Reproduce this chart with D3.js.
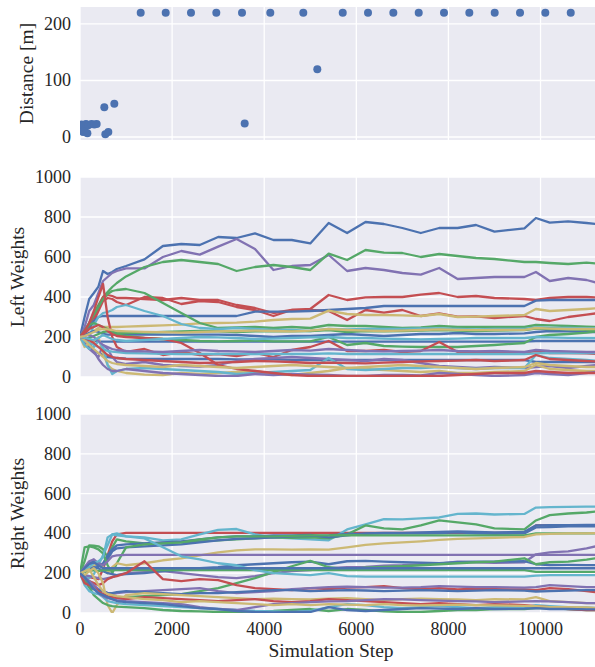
<!DOCTYPE html>
<html>
<head>
<meta charset="utf-8">
<script src="https://cdn.jsdelivr.net/npm/d3@7"></script>
<style>
  body { margin: 0; background: #fff; }
</style>
</head>
<body>
<div id="chart"></div>
<script>
// distance scatter
var distSteps = [30, 58, 70, 100, 130, 160, 181, 250, 311, 362, 528, 550, 615, 745,
  1318, 1861, 2410, 2960, 3518, 3576, 4132, 4849, 5153, 5705, 6254, 6804, 7355, 7904,
  8454, 9005, 9555, 10104, 10656];
var distVals = [22, 19.5, 9, 12, 23, 6.5, 21, 23, 22, 23, 52.5, 5, 9, 59,
  220, 220, 220, 220, 220, 24, 220, 220, 120, 220, 220, 220, 220, 220,
  220, 220, 220, 220, 220];

// sample steps shared by all weight traces
var steps = [0, 100, 200, 300, 400, 500, 600, 700, 800, 1000, 1400, 1800, 2200, 2600, 3000,
  3400, 3800, 4200, 4600, 5000, 5400, 5800, 6200, 6600, 7000, 7400, 7800, 8200, 8600,
  9000, 9650, 9900, 10200, 10600, 11000, 11200];

var xTicks = [0, 2000, 4000, 6000, 8000, 10000];
var distTicks = [0, 100, 200];
var weightTicks = [0, 200, 400, 600, 800, 1000];

// palette index of each trace (blue, green, red, purple, yellow, cyan)
var leftHue = [0, 3, 1, 2, 2, 0, 4, 1, 5, 0, 0, 0, 1, 2, 3, 4, 5, 3, 1, 2, 5, 4, 2, 3, 5, 4];
var leftWeights = [
  [200,300,390,420,452,530,515,525,540, 555,588,655,665,660,700,695,718,685,685,668,770,720,775,765,745,720,745,745,760,727,743,795,772,778,770,765],
  [200,250,330,360,420,480,500,520,530, 543,543,600,630,612,652,690,640,535,555,560,610,530,545,535,520,512,545,490,495,500,500,525,480,495,485,473],
  [200,230,270,320,360,400,425,450,470, 503,550,575,585,575,565,530,550,560,550,535,617,585,635,622,620,600,615,605,595,590,575,575,570,565,572,568],
  [200,220,260,300,350,400,410,405,395, 395,390,385,395,385,385,360,345,320,335,340,410,385,398,400,400,412,420,400,405,395,390,385,395,400,400,398],
  [200,215,240,280,330,380,395,390,375, 360,400,395,365,380,375,350,335,305,335,335,330,285,335,322,335,305,318,302,303,295,305,290,280,300,312,318],
  [200,220,250,280,300,305,305,305,305, 305,305,305,305,305,305,305,327,327,327,330,335,340,345,355,355,355,355,355,355,355,355,382,385,385,385,385],
  [200,210,220,230,245,250,250,250,250, 252,255,258,262,268,270,272,277,285,290,292,332,315,310,310,308,305,315,300,302,305,310,340,330,335,340,343],
  [200,230,270,310,350,390,415,430,435, 440,420,370,320,270,245,248,250,245,250,245,260,255,255,250,245,248,255,250,250,250,250,260,258,255,252,250],
  [200,180,200,260,300,320,325,335,350, 360,330,305,265,245,240,245,240,235,235,230,240,238,240,240,240,243,243,240,238,240,240,248,245,245,243,245],
  [200,210,220,230,225,215,212,212,212, 212,212,212,212,212,212,210,205,200,205,205,210,215,210,205,210,215,215,220,215,215,218,225,230,228,225,225],
  [200,190,185,180,178,177,177,177,177, 177,177,177,177,177,177,177,177,177,177,177,177,177,177,177,177,177,177,177,177,177,177,180,180,180,180,180],
  [200,170,150,130,120,110,100,97,95, 92,90,90,90,90,90,88,88,88,86,85,85,85,85,85,85,85,85,85,85,85,85,75,75,75,75,75],
  [200,230,260,270,260,250,240,225,215, 205,195,190,185,180,178,180,182,178,178,178,200,160,170,155,152,150,150,150,155,160,170,200,210,215,222,227],
  [200,230,270,330,400,465,300,200,150, 125,140,110,125,110,115,105,120,100,135,150,180,130,130,135,125,130,175,125,127,125,122,130,120,120,118,115],
  [200,170,140,120,100,160,140,100,75, 65,75,60,55,52,60,80,90,95,100,95,90,85,80,90,85,70,55,50,45,50,45,50,55,45,55,60],
  [200,150,170,180,200,120,60,40,30, 20,12,10,20,15,20,25,30,15,10,20,30,45,40,35,30,25,30,20,20,25,30,60,40,35,30,30],
  [200,160,140,150,180,150,60,15,30, 40,45,40,35,30,25,15,20,25,30,35,95,40,35,40,45,45,50,45,40,45,45,110,95,90,85,82],
  [200,190,170,130,90,60,40,30,30, 40,30,20,15,10,5,5,15,10,15,12,10,5,5,10,10,8,20,15,10,5,10,20,15,10,20,25],
  [200,190,195,205,215,225,228,225,222, 220,222,225,228,230,228,225,228,230,228,230,235,225,230,228,230,232,235,232,230,232,235,242,240,238,236,235],
  [200,220,240,250,260,250,230,215,205, 200,195,190,170,120,60,40,30,20,10,5,5,5,5,5,5,5,5,10,15,20,20,30,25,20,20,20],
  [200,180,170,160,150,140,130,127,125, 120,118,116,115,115,115,115,115,115,115,115,118,115,115,115,115,115,115,115,115,115,115,118,120,120,120,120],
  [200,185,160,140,120,100,80,70,65, 60,55,50,60,55,50,45,50,55,60,55,50,45,50,55,60,55,50,45,40,45,50,70,60,55,50,50],
  [200,195,185,170,150,130,110,100,95, 90,85,80,75,70,72,75,80,78,75,70,72,70,68,72,75,78,80,82,85,80,85,110,90,85,80,78],
  [200,205,210,200,180,160,150,140,135, 130,128,125,130,135,130,128,125,130,135,132,140,135,130,128,130,132,135,130,128,130,125,135,130,128,125,125],
  [200,195,190,185,195,210,200,190,185, 180,185,190,195,200,198,195,190,192,195,198,200,195,195,192,190,188,190,192,195,195,195,200,198,196,195,195],
  [200,205,215,225,235,240,238,235,230, 228,226,224,222,225,228,230,232,230,228,232,240,235,232,230,232,235,238,236,234,235,236,245,242,240,240,240]
];

var rightHue = [2, 5, 1, 0, 0, 1, 4, 3, 3, 0, 1, 1, 5, 0, 2, 3, 0, 4, 1, 5, 2, 3, 4, 0];
var rightWeights = [
  [200,190,180,175,170,220,290,360,395, 403,403,403,403,403,403,403,403,403,403,403,403,403,403,403,403,403,403,403,403,403,403,440,440,440,440,440],
  [200,185,175,195,240,290,340,395,400, 385,380,365,370,395,418,422,395,380,375,370,365,420,445,472,470,475,480,498,500,495,498,530,532,533,535,535],
  [200,260,340,338,335,320,280,330,370, 360,350,352,355,360,365,370,375,380,378,380,375,395,440,425,420,440,465,455,445,425,420,465,492,500,505,510],
  [200,215,230,240,235,250,290,320,340, 345,350,355,360,370,380,385,385,390,390,392,380,390,400,402,402,405,408,410,408,405,408,440,442,442,443,443],
  [200,230,250,260,250,235,270,310,325, 330,335,340,345,355,365,372,375,380,385,388,390,398,398,400,400,400,402,405,400,398,400,430,432,435,435,436],
  [200,330,335,330,320,300,240,200,250, 330,345,350,355,370,380,385,385,385,388,390,390,392,390,390,390,390,390,390,390,390,390,400,400,400,400,400],
  [200,215,230,240,250,230,200,230,250, 240,250,265,275,290,305,315,320,320,318,320,318,330,342,350,355,360,367,372,375,378,382,395,398,400,400,402],
  [200,230,260,270,250,240,260,285,290, 292,292,292,292,292,292,292,292,292,292,292,292,292,292,292,292,292,292,292,292,292,292,292,292,292,292,292],
  [200,190,185,180,175,170,175,180,190, 200,205,210,200,190,180,175,185,200,210,215,225,230,232,238,240,245,248,258,255,252,255,295,305,310,325,335],
  [200,210,220,230,225,210,200,195,190, 195,200,210,215,225,230,240,245,250,255,258,245,260,262,258,255,253,250,255,258,258,260,245,241,242,241,241],
  [200,180,150,130,110,90,80,75,78, 80,85,90,95,110,125,150,175,205,235,262,230,220,228,232,235,240,245,250,255,258,275,245,255,258,268,275],
  [200,205,210,215,210,215,216,216,216, 216,216,216,216,216,216,216,216,216,216,216,216,216,216,216,216,216,216,216,216,216,216,207,207,207,207,207],
  [200,210,230,250,260,280,380,395,390, 385,375,330,285,270,250,240,215,200,195,190,200,185,183,183,183,183,183,183,183,183,183,188,190,190,190,190],
  [200,225,245,255,240,225,225,225,225, 225,225,225,225,225,225,225,225,225,225,225,225,225,225,225,225,225,225,225,225,225,225,225,225,225,225,225],
  [200,170,160,150,140,150,170,180,185, 200,260,170,160,170,165,140,125,120,115,125,120,128,130,135,125,120,125,118,122,120,118,115,125,120,110,105],
  [200,180,160,140,120,110,100,95,100, 105,110,115,120,125,110,100,105,110,120,125,130,132,130,128,128,130,135,133,130,130,128,130,140,135,130,130],
  [200,160,130,120,115,110,100,100,105, 110,105,100,95,100,100,105,110,115,115,110,112,115,113,110,112,115,113,110,112,115,112,108,110,112,115,115],
  [200,190,210,225,200,150,40,0,40, 90,100,95,90,85,80,75,70,72,70,68,72,75,70,65,70,72,70,68,65,70,68,80,60,55,50,50],
  [200,170,130,90,70,50,40,35,32, 30,25,15,10,8,5,5,8,10,15,20,10,20,15,8,5,5,10,15,15,20,20,25,25,20,15,15],
  [200,140,110,100,95,80,60,55,50, 45,40,35,30,25,20,15,10,8,5,10,30,45,40,30,25,30,35,30,25,30,28,40,35,30,28,25],
  [200,150,140,130,110,95,85,80,75, 70,80,75,70,65,60,65,70,60,55,60,70,65,60,55,50,45,50,45,40,45,40,35,30,20,15,15],
  [200,175,160,130,100,85,75,70,65, 60,55,50,45,30,20,15,30,45,50,55,58,60,65,70,68,65,62,60,58,55,58,60,58,55,50,50],
  [200,210,220,180,140,110,95,90,85, 80,70,65,55,60,55,50,45,40,45,40,45,42,40,45,40,38,40,42,40,38,36,35,30,30,28,25],
  [200,180,150,120,100,90,80,70,60, 55,50,45,35,25,20,10,5,3,5,5,30,15,10,15,20,25,22,20,25,20,22,25,20,20,18,18]
];

var palette = ['#4C72B0', '#55A868', '#C44E52', '#8172B2', '#CCB974', '#64B5CD'];
var serif = "'Liberation Serif', 'Times New Roman', Times, 'Nimbus Roman', 'DejaVu Serif', serif";

var width = 595, height = 667;
var left = 80, right = 595;

var svg = d3.select('#chart').append('svg')
  .attr('width', width)
  .attr('height', height)
  .style('font-family', serif);

var x = d3.scaleLinear().domain([0, 11183]).range([left, right]);

function panel(id, y, ticks, label, labelX) {
  var g = svg.append('g');
  var y0 = y.range()[0], y1 = y.range()[1];

  svg.append('clipPath').attr('id', 'clip-' + id)
    .append('rect')
    .attr('x', left).attr('y', y1)
    .attr('width', right - left).attr('height', y0 - y1);

  g.append('rect')
    .attr('x', left).attr('y', y1)
    .attr('width', right - left).attr('height', y0 - y1)
    .attr('fill', '#EAEAF2');

  g.selectAll('.hgrid').data(ticks).enter().append('line')
    .attr('x1', left).attr('x2', right)
    .attr('y1', d => y(d)).attr('y2', d => y(d))
    .attr('stroke', '#fff').attr('stroke-width', 1.3);

  g.selectAll('.vgrid').data(xTicks).enter().append('line')
    .attr('x1', d => x(d)).attr('x2', d => x(d))
    .attr('y1', y1).attr('y2', y0)
    .attr('stroke', '#fff').attr('stroke-width', 1.3);

  g.selectAll('.ylab').data(ticks).enter().append('text')
    .attr('x', left - 9)
    .attr('y', d => y(d))
    .attr('dy', '0.33em')
    .attr('text-anchor', 'end')
    .attr('font-family', serif)
    .attr('font-size', '18px')
    .attr('fill', '#262626')
    .text(d => d);

  g.append('text')
    .attr('transform', 'translate(' + labelX + ',' + ((y0 + y1) / 2) + ') rotate(-90)')
    .attr('text-anchor', 'middle')
    .attr('font-family', serif)
    .attr('font-size', '19.5px')
    .attr('fill', '#262626')
    .text(label);

  return g.append('g').attr('clip-path', 'url(#clip-' + id + ')');
}

// top: distance
var yDist = d3.scaleLinear().domain([-5.3, 230]).range([140, 7]);
var gDist = panel('dist', yDist, distTicks, 'Distance [m]', 33);
gDist.selectAll('circle')
  .data(distSteps.map((s, i) => [s, distVals[i]]))
  .enter().append('circle')
  .attr('cx', d => x(d[0]))
  .attr('cy', d => yDist(d[1]))
  .attr('r', 4)
  .attr('fill', palette[0]);

function weightLines(g, y, data, hue) {
  var line = d3.line()
    .x((d, i) => x(steps[i]))
    .y(d => y(d));
  g.selectAll('path')
    .data(data)
    .enter().append('path')
    .attr('fill', 'none')
    .attr('stroke', (d, i) => palette[hue[i]])
    .attr('stroke-width', 2.3)
    .attr('stroke-linejoin', 'round')
    .attr('d', line);
}

var yLeft = d3.scaleLinear().domain([0, 1000]).range([377, 177]);
var gLeft = panel('left', yLeft, weightTicks, 'Left Weights', 24);
weightLines(gLeft, yLeft, leftWeights, leftHue);

var yRight = d3.scaleLinear().domain([0, 1000]).range([613, 414]);
var gRight = panel('right', yRight, weightTicks, 'Right Weights', 24);
weightLines(gRight, yRight, rightWeights, rightHue);

svg.selectAll('.xlab').data(xTicks).enter().append('text')
  .attr('x', d => x(d))
  .attr('y', 635)
  .attr('text-anchor', 'middle')
  .attr('font-family', serif)
  .attr('font-size', '18px')
  .attr('fill', '#262626')
  .text(d => d);

svg.append('text')
  .attr('x', 331)
  .attr('y', 657)
  .attr('text-anchor', 'middle')
  .attr('font-family', serif)
  .attr('font-size', '19.5px')
  .attr('fill', '#262626')
  .text('Simulation Step');
</script>
</body>
</html>
